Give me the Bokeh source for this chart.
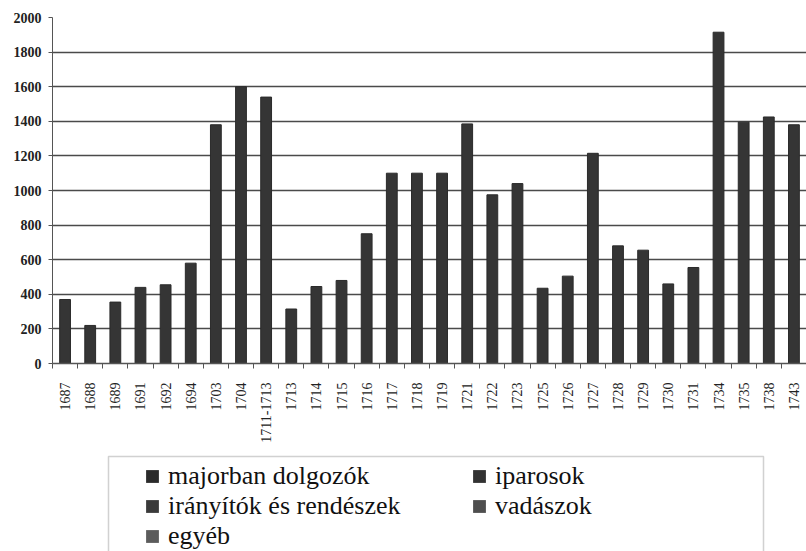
import math
from bokeh.plotting import figure
from bokeh.models import FixedTicker, Legend, LegendItem, ColumnDataSource, Range1d, BoxAnnotation
from bokeh.layouts import column
from bokeh.embed import file_html
from bokeh.resources import INLINE

years = ["1687", "1688", "1689", "1691", "1692", "1694", "1703", "1704", "1711-1713",
         "1713", "1714", "1715", "1716", "1717", "1718", "1719", "1721", "1722", "1723",
         "1725", "1726", "1727", "1728", "1729", "1730", "1731", "1734", "1735", "1738", "1743"]
totals = [370, 220, 355, 440, 455, 580, 1380, 1600, 1540,
          315, 445, 480, 750, 1100, 1100, 1100, 1385, 975, 1040,
          435, 505, 1215, 680, 655, 460, 555, 1915, 1395, 1425, 1380]
y_ticks = [0, 200, 400, 600, 800, 1000, 1200, 1400, 1600, 1800, 2000]
series = ["majorban dolgozók", "iparosok", "irányítók és rendészek", "vadászok", "egyéb"]
series_colors = ["#2b2b2b", "#323232", "#3a3a3a", "#4e4e4e", "#5c5c5c"]

SERIF = "'Liberation Serif', 'Times New Roman', serif"
n = len(years)
idx = list(range(n))

p = figure(width=806, height=452, output_backend="svg", toolbar_location=None,
           x_range=Range1d(-0.5, n - 0.5), y_range=Range1d(0, 2000),
           min_border_left=52, min_border_right=0, min_border_top=17, min_border_bottom=89)
p.outline_line_color = None

src = ColumnDataSource(dict(x=idx, top=totals))
p.vbar(x="x", top="top", width=0.43, source=src, fill_color="#353535", line_color="#2a2a2a")

# y axis
p.yaxis.ticker = FixedTicker(ticks=y_ticks)
p.yaxis.major_label_text_font = SERIF
p.yaxis.major_label_text_font_style = "bold"
p.yaxis.major_label_text_font_size = "14px"
p.yaxis.major_label_text_color = "#222222"
p.yaxis.axis_line_color = "#555555"
p.yaxis.major_tick_line_color = "#555555"
p.yaxis.major_tick_out = 4
p.yaxis.major_tick_in = 0
p.yaxis.minor_tick_line_color = None
p.yaxis.major_label_standoff = 7
p.ygrid.grid_line_color = "#4a4a4a"
p.ygrid.grid_line_width = 1.5
p.ygrid.ticker = FixedTicker(ticks=y_ticks)

# x axis
boundaries = [i - 0.5 for i in range(n + 1)]
p.xaxis.ticker = FixedTicker(ticks=idx, minor_ticks=boundaries)
p.xaxis.major_label_overrides = {i: years[i] for i in idx}
p.xaxis.major_label_orientation = math.pi / 2
p.xaxis.major_label_text_font = SERIF
p.xaxis.major_label_text_font_size = "14px"
p.xaxis.major_label_text_color = "#222222"
p.xaxis.major_tick_line_color = None
p.xaxis.major_tick_out = 0
p.xaxis.major_tick_in = 0
p.xaxis.minor_tick_line_color = "#555555"
p.xaxis.minor_tick_out = 5
p.xaxis.minor_tick_in = 0
p.xaxis.axis_line_color = "#555555"
p.xaxis.axis_line_width = 1.5
p.xaxis.major_label_standoff = 14
p.xgrid.grid_line_color = None

# legend figure (frame in pixel units)
p2 = figure(width=806, height=99, output_backend="svg", toolbar_location=None,
            x_range=Range1d(0, 754), y_range=Range1d(0, 99),
            min_border_left=52, min_border_right=0, min_border_top=0, min_border_bottom=0)
p2.axis.visible = False
p2.grid.visible = False
p2.outline_line_color = None

p2.add_layout(BoxAnnotation(left=56, right=711, top=95, bottom=-20,
                            fill_alpha=0, line_color="#666666", line_width=1.5))

items = []
for name, col in zip(series, series_colors):
    r = p2.quad(left=[0], right=[0], top=[0], bottom=[0], fill_color=col, line_color=None)
    items.append(LegendItem(label=name, renderers=[r]))

leg = Legend(items=items, location=(92, 0), ncols=2, orientation="horizontal",
             glyph_width=16, glyph_height=16, label_standoff=8, label_width=303,
             label_height=30, spacing=0, padding=0, margin=0,
             label_text_font=SERIF, label_text_font_size="26px", label_text_color="#111111",
             border_line_alpha=0, background_fill_alpha=0)
p2.add_layout(leg, "center")

layout = column(p, p2, spacing=0)
open("out.html", "w").write(file_html(layout, INLINE))
